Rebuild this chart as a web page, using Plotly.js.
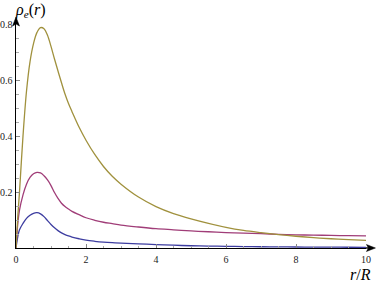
<!DOCTYPE html>
<html>
<head>
<meta charset="utf-8">
<script src="https://cdn.plot.ly/plotly-3.0.1.min.js"></script>
<style>html,body{margin:0;padding:0;background:#fff;}#chart{width:382px;height:282px;}</style>
</head>
<body>
<div id="chart"></div>
<script>
const xs = [0,0.05,0.1,0.2,0.3,0.4,0.5,0.6,0.7,0.8,0.9,1.0,1.1,1.2,1.3,1.4,1.5,1.6,1.8,2.0,2.25,2.5,2.75,3,3.5,4,4.5,5,5.5,6,6.5,7,7.5,8,8.5,9,9.5,10];
const blueVals = [0,0.04,0.065,0.088,0.106,0.117,0.124,0.126,0.122,0.112,0.098,0.084,0.072,0.062,0.054,0.048,0.043,0.039,0.033,0.028,0.024,0.021,0.019,0.0175,0.015,0.012,0.010,0.008,0.007,0.006,0.005,0.0045,0.004,0.0035,0.0032,0.003,0.0027,0.0025];
const purpleVals = [0,0.085,0.135,0.19,0.228,0.252,0.265,0.27,0.268,0.258,0.243,0.223,0.198,0.177,0.16,0.148,0.139,0.131,0.119,0.108,0.099,0.092,0.087,0.082,0.075,0.069,0.065,0.061,0.058,0.055,0.053,0.051,0.049,0.047,0.046,0.045,0.044,0.043];
const goldVals = [0,0.11,0.2,0.40,0.56,0.665,0.73,0.77,0.787,0.783,0.76,0.72,0.675,0.632,0.59,0.55,0.516,0.487,0.432,0.385,0.334,0.291,0.256,0.228,0.182,0.148,0.123,0.104,0.088,0.074,0.063,0.055,0.048,0.042,0.037,0.033,0.030,0.027];
const xTickVals = [0,2,4,6,8,10];
const yTickVals = [0.2,0.4,0.6,0.8];

const colors = ['rgb(61,61,160)','rgb(160,61,120)','rgb(160,145,61)'];
const series = [blueVals, purpleVals, goldVals];
const traces = series.map((v,i)=>({
  x: xs, y: v, type:'scatter', mode:'lines',
  line:{color:colors[i], width:1.3, shape:'spline', smoothing:1},
  hoverinfo:'none', cliponaxis:false
}));

const serif = 'Liberation Serif';
const tickFont = {family:serif, size:10, color:'#222'};
const layout = {
  width:382, height:282,
  margin:{l:16, r:16, t:24, b:34},
  paper_bgcolor:'#fff', plot_bgcolor:'#fff',
  showlegend:false,
  font:{family:serif},
  xaxis:{
    range:[0,10], showgrid:false, zeroline:false,
    showline:true, linecolor:'#000', linewidth:1.4,
    tickmode:'array', tickvals:xTickVals, ticktext:xTickVals.map(String),
    ticks:'inside', ticklen:4, tickcolor:'#888', tickwidth:1,
    minor:{tickmode:'linear', tick0:0, dtick:0.5, ticks:'inside', ticklen:2.5, tickcolor:'#aaa', tickwidth:1},
    tickfont:tickFont, ticklabelstandoff:2
  },
  yaxis:{
    range:[0,0.8], showgrid:false, zeroline:false,
    showline:true, linecolor:'#000', linewidth:1.4,
    tickmode:'array', tickvals:yTickVals, ticktext:yTickVals.map(String),
    ticks:'inside', ticklen:4, tickcolor:'#888', tickwidth:1,
    minor:{tickmode:'linear', tick0:0, dtick:0.05, ticks:'inside', ticklen:2.5, tickcolor:'#aaa', tickwidth:1},
    tickfont:tickFont, ticklabelstandoff:0
  },
  shapes:[
    {type:'line', xref:'paper', yref:'paper', x0:1, x1:1.02, y0:0, y1:0, line:{color:'#000', width:1.4}},
    {type:'path', xref:'paper', yref:'paper', xsizemode:'pixel', ysizemode:'pixel', xanchor:1.027, yanchor:0,
     path:'M0,0 L-9,3.5 L-7,0 L-9,-3.5 Z', fillcolor:'#000', line:{color:'#000', width:0.5}},
    {type:'line', xref:'paper', yref:'paper', x0:0, x1:0, y0:1, y1:1.02, line:{color:'#000', width:1.4}},
    {type:'path', xref:'paper', yref:'paper', xsizemode:'pixel', ysizemode:'pixel', xanchor:0, yanchor:1.031,
     path:'M0,0 L3.5,-9 L0,-7 L-3.5,-9 Z', fillcolor:'#000', line:{color:'#000', width:0.5}}
  ],
  annotations:[
    {x:-0.009, y:1.06, xref:'paper', yref:'paper', xanchor:'left', yanchor:'middle', showarrow:false,
     text:'<i>ρ</i><sub><i>e</i></sub>(<i>r</i>)', font:{family:serif, size:16, color:'#000'}},
    {x:0.985, y:-0.118, xref:'paper', yref:'paper', xanchor:'center', yanchor:'middle', showarrow:false,
     text:'<i>r</i>/<i>R</i>', font:{family:serif, size:16, color:'#000'}}
  ]
};
Plotly.newPlot('chart', traces, layout, {staticPlot:true, displayModeBar:false});
</script>
</body>
</html>
